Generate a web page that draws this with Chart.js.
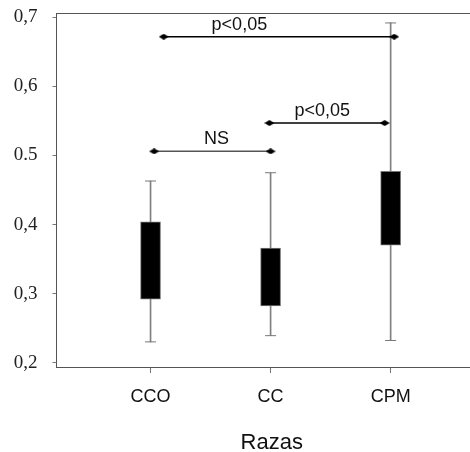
<!DOCTYPE html>
<html>
<head>
<meta charset="utf-8">
<script src="https://cdn.jsdelivr.net/npm/chart.js@4.4.1/dist/chart.umd.min.js"></script>
<style>
  body { margin: 0; background: #fff; }
  canvas { display: block; }
</style>
</head>
<body>
<canvas id="boxChart" width="470" height="452"></canvas>
<script>
// values
const categories = ["CCO", "CC", "CPM"];
const whiskerLow = [0.230, 0.239, 0.232];
const whiskerHigh = [0.463, 0.475, 0.692];
const boxLow = [0.292, 0.282, 0.370];
const boxHigh = [0.404, 0.366, 0.477];

const yTicks = [0.2, 0.3, 0.4, 0.5, 0.6, 0.7];
const yTickLabels = ["0,2", "0,3", "0,4", "0.5", "0,6", "0,7"];
const xTitle = "Razas";

// significance brackets
const bracketLabels = ["NS", "p<0,05", "p<0,05"];
const bracketY = [0.506, 0.547, 0.672];
const bracketFrom = [1.03, 1.99, 1.11];
const bracketTo = [2.0, 2.95, 3.03];
const bracketLabelX = [1.55, 2.43, 1.74];
const bracketColors = ["#555", "#000", "#000"];

// small diamond used at bracket ends
const diamond = document.createElement('canvas');
diamond.width = 10; diamond.height = 6;
const dctx = diamond.getContext('2d');
dctx.fillStyle = '#000';
dctx.beginPath();
dctx.moveTo(0, 3); dctx.lineTo(5, 0); dctx.lineTo(10, 3); dctx.lineTo(5, 6);
dctx.closePath(); dctx.fill();

const xPos = categories.map((c, i) => i + 1);

const datasets = [];
datasets.push({
    type: 'bar',
    data: xPos.map((x, i) => ({ x: x, y: [boxLow[i], boxHigh[i]] })),
    backgroundColor: '#000',
    borderColor: '#777',
    borderWidth: 1,
    borderSkipped: false,
    barThickness: 20,
    grouped: false,
    order: 0
});
datasets.push({
    type: 'bar',
    data: xPos.map((x, i) => ({ x: x, y: [whiskerLow[i], whiskerHigh[i]] })),
    backgroundColor: '#808080',
    borderWidth: 0,
    barThickness: 1,
    grouped: false,
    order: 3
});
datasets.push({
    type: 'scatter',
    data: xPos.flatMap((x, i) => [{ x: x, y: whiskerLow[i] }, { x: x, y: whiskerHigh[i] }]),
    pointStyle: 'line',
    pointRadius: 5.5,
    borderColor: '#777',
    borderWidth: 1,
    order: 2
});
bracketLabels.forEach((lab, i) => {
    datasets.push({
        type: 'line',
        data: [{ x: bracketFrom[i], y: bracketY[i] }, { x: bracketTo[i], y: bracketY[i] }],
        borderColor: bracketColors[i],
        borderWidth: 1.5,
        pointStyle: diamond,
        pointRadius: 5,
        order: 1
    });
});

// top frame line, bracket labels and axis title
const framePlugin = {
    id: 'frame',
    afterDatasetsDraw(chart) {
        const ctx = chart.ctx;
        const area = chart.chartArea;
        const xs = chart.scales.x, ys = chart.scales.y;
        ctx.save();
        ctx.strokeStyle = '#555';
        ctx.lineWidth = 1;
        ctx.beginPath();
        ctx.moveTo(area.left, area.top + 0.5);
        ctx.lineTo(chart.width, area.top + 0.5);
        ctx.stroke();
        ctx.fillStyle = '#111';
        ctx.font = '18px "Liberation Sans", Arial, sans-serif';
        ctx.textAlign = 'center';
        ctx.textBaseline = 'alphabetic';
        bracketLabels.forEach((lab, i) => {
            ctx.fillText(lab, xs.getPixelForValue(bracketLabelX[i]), ys.getPixelForValue(bracketY[i]) - 7);
        });
        ctx.font = '22px "Liberation Sans", Arial, sans-serif';
        ctx.textBaseline = 'middle';
        ctx.fillText(xTitle, xs.getPixelForValue(2.01), area.bottom + 76);
        ctx.restore();
    }
};

new Chart(document.getElementById('boxChart').getContext('2d'), {
    data: { datasets: datasets },
    plugins: [framePlugin],
    options: {
        responsive: false,
        animation: false,
        layout: { autoPadding: false, padding: { top: 13, right: 0, left: 0, bottom: 0 } },
        plugins: { legend: { display: false }, tooltip: { enabled: false } },
        scales: {
            x: {
                type: 'linear',
                min: 0.2167,
                max: 3.661,
                offset: false,
                afterBuildTicks: (scale) => { scale.ticks = xPos.map(v => ({ value: v })); },
                afterFit: (scale) => { scale.height = 85; scale.paddingRight = 0; scale.paddingLeft = 0; },
                ticks: {
                    callback: (v) => categories[v - 1],
                    font: { family: '"Liberation Sans", Arial, sans-serif', size: 18 },
                    color: '#111',
                    padding: 13,
                    autoSkip: false,
                    maxRotation: 0
                },
                grid: { drawOnChartArea: false, offset: false, tickLength: 6, tickColor: '#777' },
                border: { color: '#555', width: 1 }
            },
            y: {
                type: 'linear',
                min: 0.1936,
                max: 0.7064,
                afterBuildTicks: (scale) => { scale.ticks = yTicks.map(v => ({ value: v })); },
                afterFit: (scale) => { scale.width = 56.5; scale.paddingTop = 0; scale.paddingBottom = 0; },
                ticks: {
                    callback: (v) => yTickLabels[yTicks.findIndex(t => Math.abs(t - v) < 1e-6)],
                    font: { family: '"Liberation Serif", "Times New Roman", serif', size: 19 },
                    color: '#222',
                    padding: 15
                },
                grid: { drawOnChartArea: false, tickLength: 4, tickColor: '#777' },
                border: { color: '#555', width: 1 }
            }
        }
    }
});
</script>
</body>
</html>
